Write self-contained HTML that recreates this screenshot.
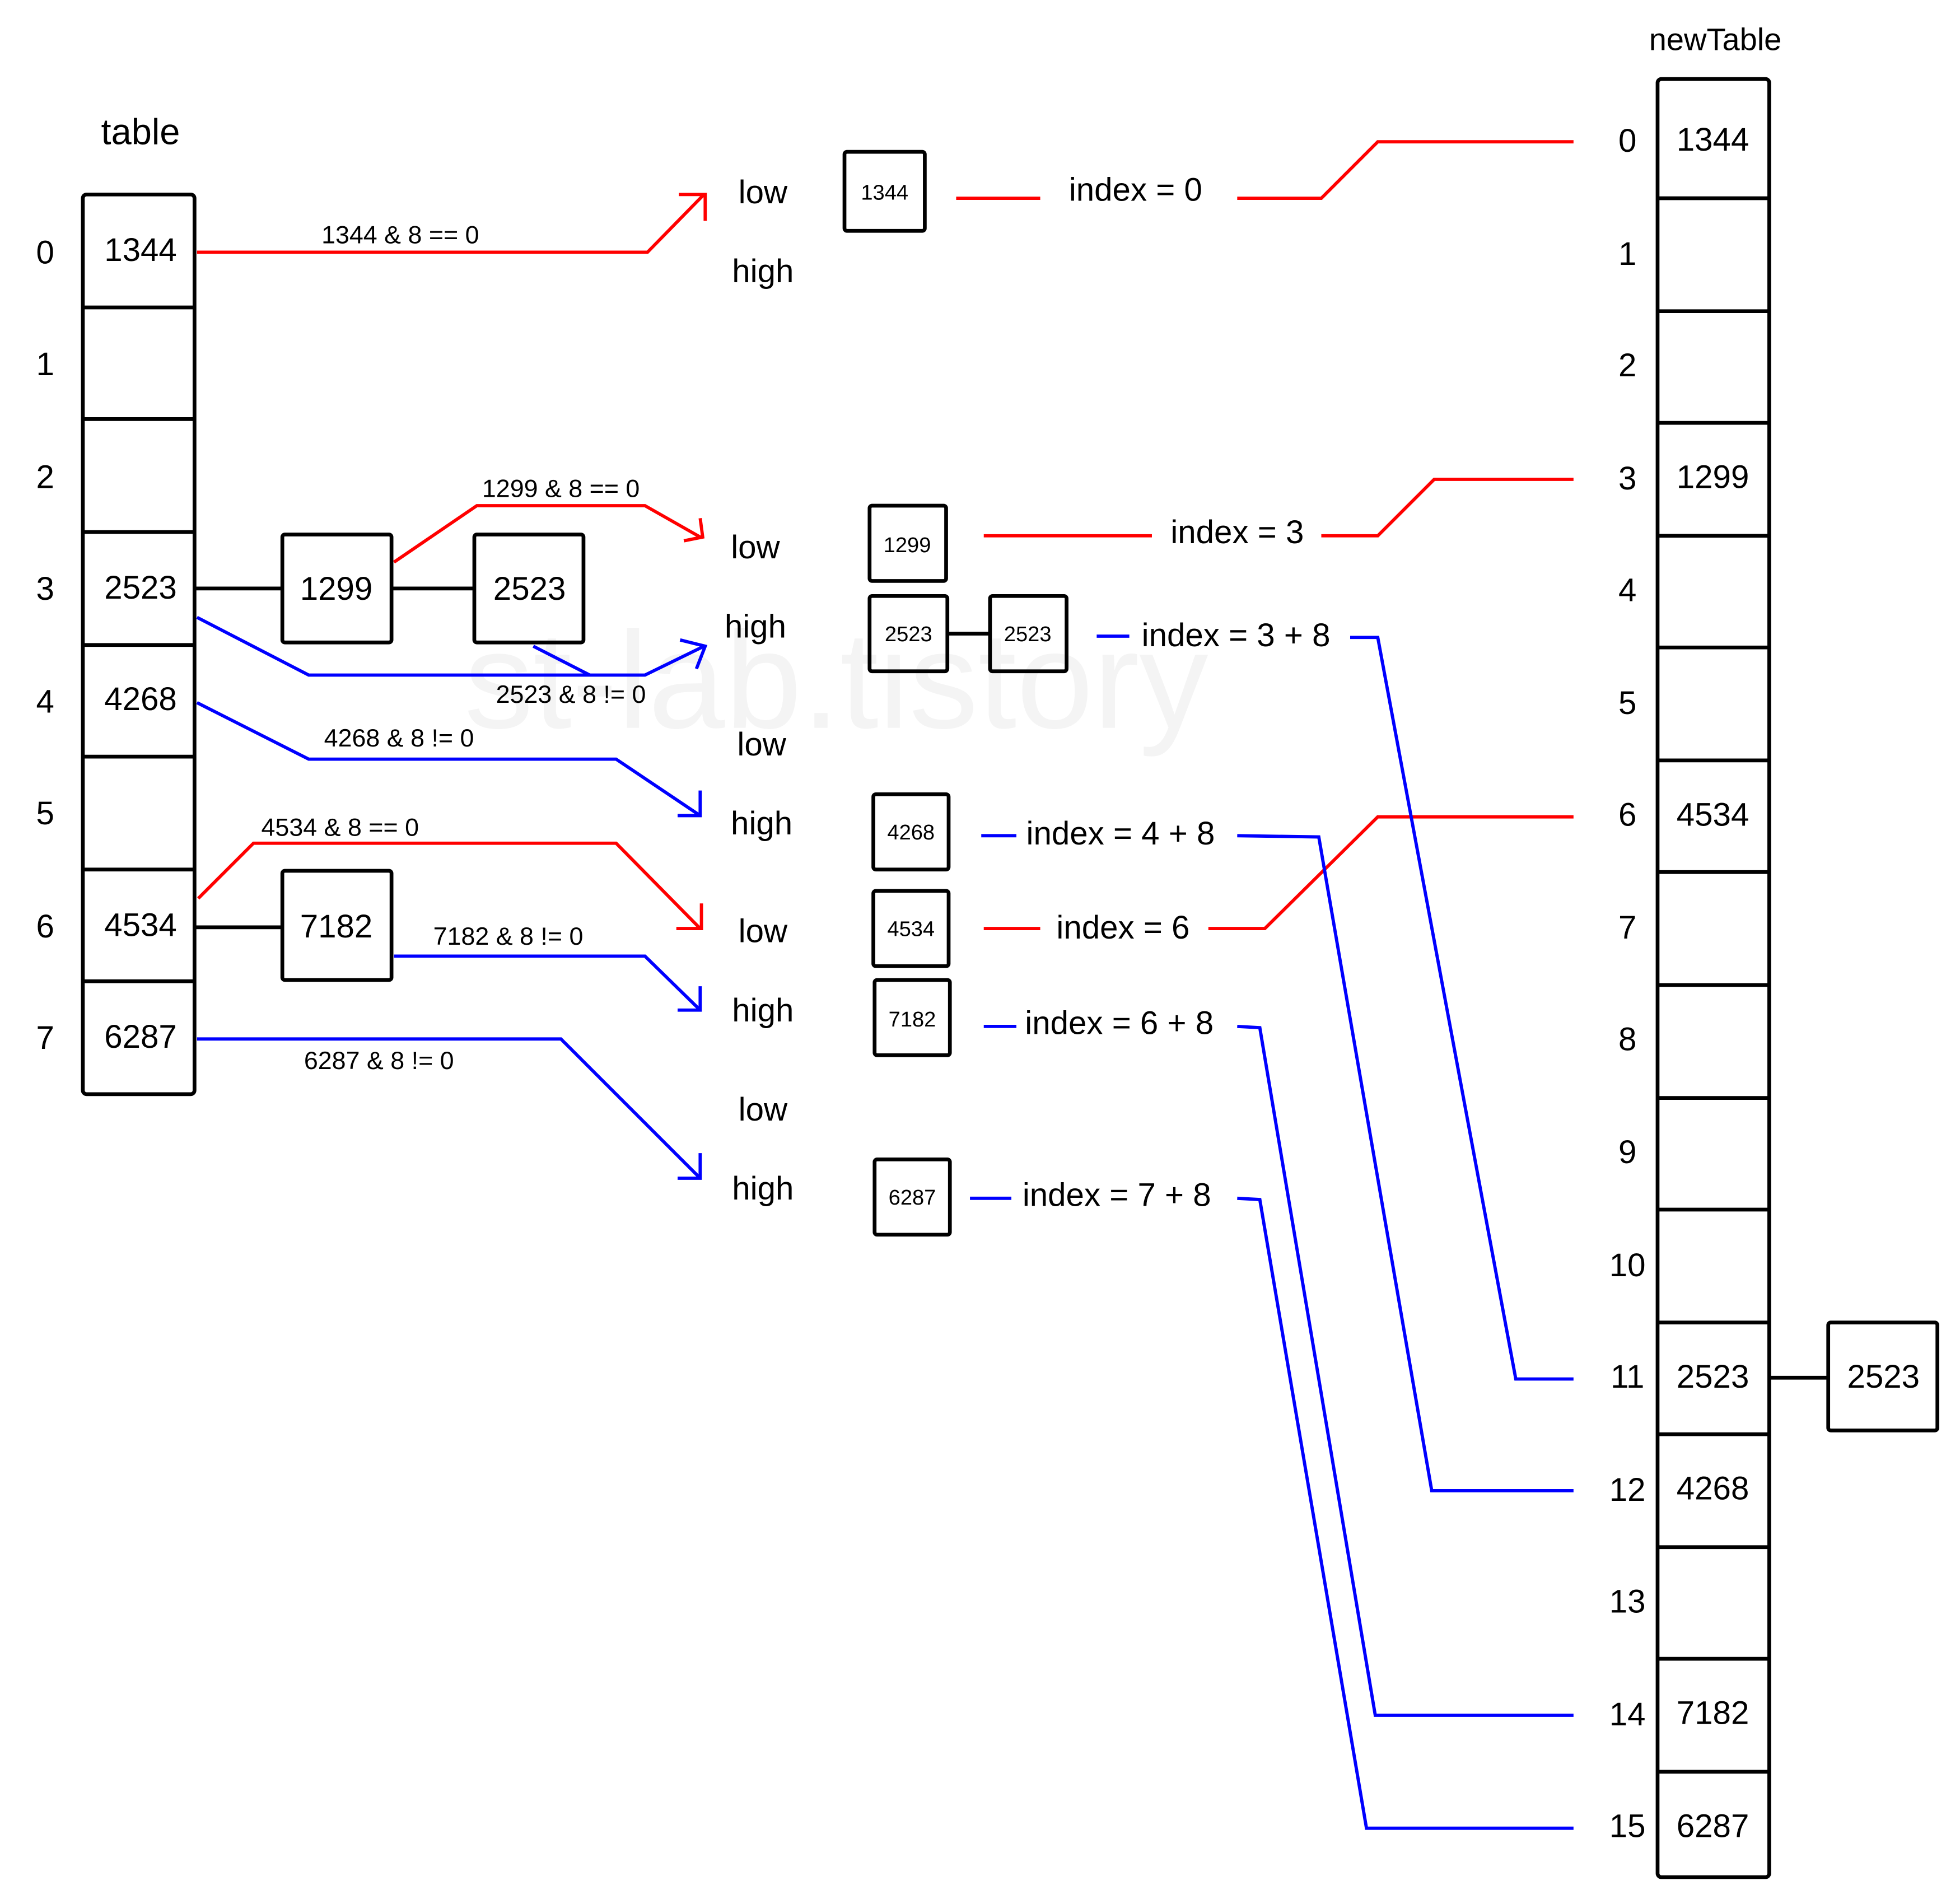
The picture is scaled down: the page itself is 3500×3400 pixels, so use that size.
<!DOCTYPE html>
<html><head><meta charset="utf-8"><style>
html,body{margin:0;padding:0;background:#fff;}
svg{display:block;}
text{font-family:"Liberation Sans","DejaVu Sans",sans-serif;fill:#000;}
</style></head><body>
<svg width="3500" height="3400" viewBox="0 0 1562 1517.4" xmlns="http://www.w3.org/2000/svg">
<rect width="1562" height="1518" fill="#fff"/>
<text x="370" y="580" font-size="110" fill="#f4f4f4" style="fill:#f4f4f4">st-lab.tistory</text>
<g fill="none" stroke-linejoin="miter">
<rect x="66" y="155" width="89" height="717" rx="3" stroke="#000" stroke-width="3"/>
<g stroke="#000" stroke-width="3">
<line x1="66" y1="245" x2="155" y2="245"/><line x1="66" y1="334" x2="155" y2="334"/>
<line x1="66" y1="424" x2="155" y2="424"/><line x1="66" y1="514" x2="155" y2="514"/>
<line x1="66" y1="603" x2="155" y2="603"/><line x1="66" y1="693" x2="155" y2="693"/>
<line x1="66" y1="782" x2="155" y2="782"/>
<rect x="225" y="426" width="87" height="86" rx="2"/>
<rect x="378" y="426" width="87" height="86" rx="2"/>
<rect x="225" y="694" width="87" height="87" rx="2"/>
<line x1="155" y1="469" x2="225" y2="469"/><line x1="312" y1="469" x2="378" y2="469"/>
<line x1="155" y1="739" x2="225" y2="739"/>
<rect x="673" y="121" width="64" height="63" rx="2"/>
<rect x="693" y="403" width="61" height="60" rx="2"/>
<rect x="693" y="475" width="62" height="60" rx="2"/>
<rect x="789" y="475" width="61" height="60" rx="2"/>
<line x1="755" y1="505" x2="789" y2="505"/>
<rect x="696" y="633" width="60" height="60" rx="2"/>
<rect x="696" y="710" width="60" height="60" rx="2"/>
<rect x="697" y="781" width="60" height="60" rx="2"/>
<rect x="697" y="924" width="60" height="60" rx="2"/>
<rect x="1321" y="63" width="89" height="1433" rx="3"/>
<line x1="1321" y1="158" x2="1410" y2="158"/><line x1="1321" y1="248" x2="1410" y2="248"/>
<line x1="1321" y1="337" x2="1410" y2="337"/><line x1="1321" y1="427" x2="1410" y2="427"/>
<line x1="1321" y1="516" x2="1410" y2="516"/><line x1="1321" y1="606" x2="1410" y2="606"/>
<line x1="1321" y1="695" x2="1410" y2="695"/><line x1="1321" y1="785" x2="1410" y2="785"/>
<line x1="1321" y1="875" x2="1410" y2="875"/><line x1="1321" y1="964" x2="1410" y2="964"/>
<line x1="1321" y1="1054" x2="1410" y2="1054"/><line x1="1321" y1="1143" x2="1410" y2="1143"/>
<line x1="1321" y1="1233" x2="1410" y2="1233"/><line x1="1321" y1="1322" x2="1410" y2="1322"/>
<line x1="1321" y1="1412" x2="1410" y2="1412"/>
<rect x="1457" y="1054" width="87" height="86" rx="2"/>
<line x1="1410" y1="1098" x2="1457" y2="1098"/>
</g>
<g stroke="#ff0000" stroke-width="2.6">
<polyline points="157,201 516,201 561,155"/><polyline points="541,155 562,155 562,176"/>
<polyline points="314,448 380,403 514,403 558,428"/><polyline points="545,431 560,428 558,413"/>
<polyline points="158,716 202,672 491,672 558,740"/><polyline points="539,740 559,740 559,720"/>
<line x1="762" y1="158" x2="829" y2="158"/><polyline points="986,158 1053,158 1098,113 1254,113"/>
<line x1="784" y1="427" x2="918" y2="427"/><polyline points="1053,427 1098,427 1143,382 1254,382"/>
<line x1="784" y1="740" x2="829" y2="740"/><polyline points="963,740 1008,740 1098,651 1254,651"/>
</g>
<g stroke="#0000ff" stroke-width="2.6">
<polyline points="157,492 246,538 514,538 561,515"/><line x1="425" y1="515" x2="470" y2="538"/>
<polyline points="542,510 562,515 555,533"/>
<polyline points="157,560 246,605 491,605 558,650"/><polyline points="558,630 558,650 540,650"/>
<polyline points="314,762 514,762 558,805"/><polyline points="558,786 558,805 540,805"/>
<polyline points="157,828 447,828 558,939"/><polyline points="558,919 558,939 540,939"/>
<line x1="874" y1="507" x2="900" y2="507"/><polyline points="1076,508 1098,508 1208,1099 1254,1099"/>
<line x1="782" y1="666" x2="810" y2="666"/><polyline points="986,666 1051,667 1141,1188 1254,1188"/>
<line x1="784" y1="818" x2="810" y2="818"/><polyline points="986,818 1004,819 1096,1367 1254,1367"/>
<line x1="773" y1="955" x2="806" y2="955"/><polyline points="986,955 1004,956 1089,1457 1254,1457"/>
</g>
</g>
<g font-size="26" text-anchor="middle">
<text x="112" y="115" font-size="29">table</text>
<text x="1367" y="40" font-size="25">newTable</text>
<text x="112" y="208">1344</text><text x="112" y="477">2523</text><text x="112" y="566">4268</text>
<text x="112" y="746">4534</text><text x="112" y="835">6287</text>
<text x="268" y="478">1299</text><text x="422" y="478">2523</text><text x="268" y="747">7182</text>
<text x="1365" y="120">1344</text><text x="1365" y="389">1299</text><text x="1365" y="658">4534</text>
<text x="1365" y="1106">2523</text><text x="1365" y="1195">4268</text><text x="1365" y="1374">7182</text>
<text x="1365" y="1464">6287</text><text x="1501" y="1106">2523</text>
</g>
<g font-size="26" text-anchor="middle">
<text x="36" y="210">0</text><text x="36" y="299">1</text><text x="36" y="389">2</text><text x="36" y="478">3</text>
<text x="36" y="568">4</text><text x="36" y="657">5</text><text x="36" y="747">6</text><text x="36" y="836">7</text>
<text x="1297" y="121">0</text><text x="1297" y="211">1</text><text x="1297" y="300">2</text><text x="1297" y="390">3</text>
<text x="1297" y="479">4</text><text x="1297" y="569">5</text><text x="1297" y="658">6</text><text x="1297" y="748">7</text>
<text x="1297" y="837">8</text><text x="1297" y="927">9</text><text x="1297" y="1017">10</text><text x="1297" y="1106">11</text>
<text x="1297" y="1196">12</text><text x="1297" y="1285">13</text><text x="1297" y="1375">14</text><text x="1297" y="1464">15</text>
</g>
<g font-size="26" text-anchor="middle">
<text x="608" y="162">low</text><text x="608" y="225">high</text>
<text x="602" y="445">low</text><text x="602" y="508">high</text>
<text x="607" y="602">low</text><text x="607" y="665">high</text>
<text x="608" y="751">low</text><text x="608" y="814">high</text>
<text x="608" y="893">low</text><text x="608" y="956">high</text>
<text x="905" y="160">index = 0</text><text x="986" y="433">index = 3</text>
<text x="985" y="515">index = 3 + 8</text><text x="893" y="673">index = 4 + 8</text>
<text x="895" y="748">index = 6</text><text x="892" y="824">index = 6 + 8</text>
<text x="890" y="961">index = 7 + 8</text>
</g>
<g font-size="17" text-anchor="middle">
<text x="705" y="159">1344</text><text x="723" y="440">1299</text><text x="724" y="511">2523</text>
<text x="819" y="511">2523</text><text x="726" y="669">4268</text><text x="726" y="746">4534</text>
<text x="727" y="818">7182</text><text x="727" y="960">6287</text>
</g>
<g font-size="20" text-anchor="middle">
<text x="319" y="194">1344 &amp; 8 == 0</text><text x="447" y="396">1299 &amp; 8 == 0</text>
<text x="455" y="560">2523 &amp; 8 != 0</text><text x="318" y="595">4268 &amp; 8 != 0</text>
<text x="271" y="666">4534 &amp; 8 == 0</text><text x="405" y="753">7182 &amp; 8 != 0</text>
<text x="302" y="852">6287 &amp; 8 != 0</text>
</g>
</svg>
</body></html>
